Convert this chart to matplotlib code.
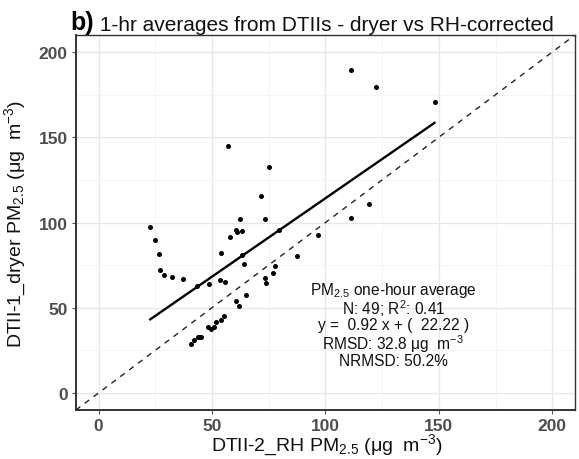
import matplotlib
matplotlib.use("Agg")
import matplotlib.pyplot as plt
import numpy as np

plt.rcParams['font.family'] = ['Liberation Sans', 'DejaVu Sans']
plt.rcParams['mathtext.fontset'] = 'custom'
plt.rcParams['mathtext.rm'] = 'Liberation Sans'
plt.rcParams['mathtext.it'] = 'Liberation Sans:italic'
plt.rcParams['mathtext.bf'] = 'Liberation Sans:bold'

# ---- data ----
x_rh = [22.8, 24.7, 26.6, 26.9, 28.8, 32.5, 37.2, 43.5, 48.8, 40.9, 42.0, 43.8,
        45.3, 48.4, 49.7, 50.9, 51.9, 54.1, 55.3, 53.5, 55.7, 54.2, 57.8, 60.7,
        61.1, 62.2, 63.1, 63.1, 64.2, 60.7, 61.7, 64.8, 73.5, 73.2, 73.6, 76.9,
        77.6, 79.5, 87.4, 96.9, 111.3, 111.3, 57.2, 75.0, 71.6, 122.3, 148.1,
        119.0, 44.5]
y_dryer = [97.5, 89.7, 81.3, 72.1, 69.4, 67.9, 67.0, 62.9, 63.9, 28.9, 31.1, 32.7,
           33.0, 38.7, 37.4, 38.5, 41.8, 42.8, 45.2, 66.3, 65.1, 82.3, 91.5, 95.8,
           94.4, 102.2, 95.2, 80.9, 75.5, 54.1, 51.0, 57.7, 102.1, 67.3, 64.3, 70.6,
           74.7, 95.6, 80.5, 92.7, 102.8, 189.3, 145.0, 132.6, 115.7, 179.7, 170.5,
           110.7, 32.9]
fit_slope = 0.92
fit_intercept = 22.22
ticks = [0, 50, 100, 150, 200]
minor_ticks = [25, 75, 125, 175]
lims = [-10, 210]

title_b = "b)"
title_main = "1-hr averages from DTIIs - dryer vs RH-corrected"
xlabel = "DTII-2_RH PM$_{2.5}$ (μg  m$^{-3}$)"
ylabel = "DTII-1_dryer PM$_{2.5}$ (μg  m$^{-3}$)"
stats_lines = ["PM$_{2.5}$ one-hour average",
               "N: 49; R$^{2}$: 0.41",
               "y =  0.92 x + (  22.22 )",
               "RMSD: 32.8 μg  m$^{-3}$",
               "NRMSD: 50.2%"]
stats_y = [60.5, 50.0, 40.0, 29.0, 19.0]
stats_x = 130

# ---- figure ----
fig = plt.figure(figsize=(5.79, 4.60), dpi=100)
ax = fig.add_axes([0.131, 0.1065, 0.862, 0.8152])
ax.set_xlim(lims)
ax.set_ylim(lims)

ax.set_xticks(ticks)
ax.set_yticks(ticks)
ax.set_xticks(minor_ticks, minor=True)
ax.set_yticks(minor_ticks, minor=True)
ax.grid(True, which='major', color='#e6e6e6', lw=0.9)
ax.grid(True, which='minor', color='#f3f3f3', lw=0.6)
ax.set_axisbelow(True)
ax.tick_params(which='minor', length=0)
ax.tick_params(which='major', length=3, color='#555555', labelsize=12.5,
               labelcolor='#4d4d4d', pad=3)
for lab in ax.get_xticklabels() + ax.get_yticklabels():
    lab.set_fontweight('bold')
for s in ax.spines.values():
    s.set_color('#333333')
    s.set_linewidth(1.0)
ax.spines['left'].set_linewidth(1.4)
ax.spines['bottom'].set_linewidth(1.4)

# 1:1 line
ax.plot(lims, lims, ls=(0, (4, 4)), color='#222222', lw=1.0, zorder=2)
# regression line
xf = np.array([min(x_rh), max(x_rh)])
ax.plot(xf, fit_slope * xf + fit_intercept, color='black', lw=1.7, zorder=3)
# points
ax.scatter(x_rh, y_dryer, s=13, color='black', zorder=4, linewidths=0)

for t, yy in zip(stats_lines, stats_y):
    ax.text(stats_x, yy, t, ha='center', va='center', fontsize=11.2, color='#111111')

ax.set_xlabel(xlabel, fontsize=14, color='#111111')
ax.set_ylabel(ylabel, fontsize=14, color='#111111')
ax.xaxis.set_label_coords(0.503, -0.058)
ax.yaxis.set_label_coords(-0.095, 0.5)

tb = fig.text(0.122, 0.935, title_b, fontsize=18, fontweight='bold', ha='left', va='baseline')
fig.canvas.draw()
ax.annotate(" " + title_main, xy=(1, 0), xycoords=tb, fontsize=15,
            ha='left', va='bottom', color='#111111', annotation_clip=False)

fig.savefig("out.png", dpi=100)
